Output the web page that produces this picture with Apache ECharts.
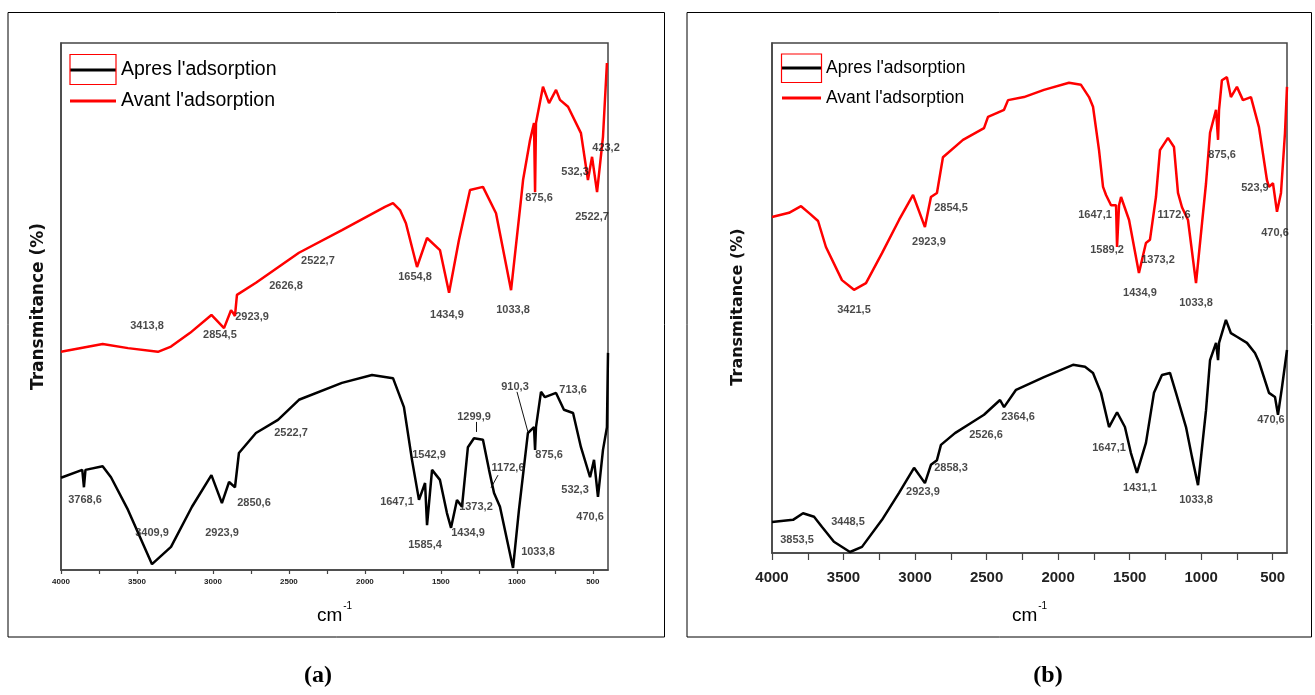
<!DOCTYPE html>
<html>
<head>
<meta charset="utf-8">
<script src="https://cdn.jsdelivr.net/npm/echarts@6/dist/echarts.min.js"></script>
<style>
html,body{margin:0;padding:0;background:#fff;}
#c{width:1315px;height:695px;}
</style>
</head>
<body>
<div id="c"></div>
<script>
// ---------- DATA ----------
const seriesNames = ["Apres l'adsorption", "Avant l'adsorption"];
const xTickLabels = [4000, 3500, 3000, 2500, 2000, 1500, 1000, 500];
const xTickMarks = [4000, 3750, 3500, 3250, 3000, 2750, 2500, 2250, 2000, 1750, 1500, 1250, 1000, 750, 500];

// Panel (a) – before adsorption (red)
const a_avant = [[4000,41.4],[3726,42.9],[3559,42.1],[3362,41.4],[3276,42.4],[3150,45.0],[3010,48.4],[2927,45.9],[2881,49.3],[2868,48.8],[2855,48.2],[2842,52.2],[2717,54.5],[2434,60.2],[2151,64.5],[1868,68.9],[1815,69.6],[1769,68.3],[1730,65.8],[1657,57.5],[1591,63.0],[1506,60.7],[1446,52.6],[1381,62.6],[1308,72.1],[1223,72.7],[1137,67.7],[1038,53.1],[973,70.2],[959,74.0],[913,81.6],[887,84.8],[880,71.7],[874,84.8],[828,91.7],[788,88.6],[742,91.1],[716,89.2],[663,87.9],[578,82.9],[532,74.0],[505,78.4],[472,71.7],[433,82.2],[407,96.2]];
// Panel (a) – after adsorption (black)
const a_apres = [[4000,17.5],[3860,19.0],[3849,15.7],[3839,19.0],[3726,19.7],[3671,17.6],[3559,11.4],[3401,1.1],[3276,4.4],[3138,12.0],[3010,18.0],[2941,12.7],[2894,16.7],[2855,15.7],[2829,22.2],[2717,26.0],[2572,28.5],[2434,32.3],[2151,35.5],[1953,37.0],[1815,36.4],[1743,30.9],[1690,20.9],[1644,13.3],[1604,16.5],[1591,8.5],[1558,19.0],[1506,17.1],[1460,10.8],[1433,8.0],[1394,13.3],[1361,12.0],[1322,23.3],[1282,25.0],[1223,24.7],[1183,19.0],[1150,14.6],[1111,12.0],[1025,0.4],[986,11.4],[927,26.0],[887,27.1],[880,22.8],[874,27.1],[841,33.8],[815,32.8],[742,33.6],[690,30.4],[630,29.8],[578,23.3],[518,17.6],[492,20.9],[466,13.9],[433,22.8],[407,27.1],[400,41.2]];
// Panel (b) – before adsorption (red)
const b_avant = [[4000,65.9],[3881,66.7],[3797,68.0],[3734,66.5],[3678,65.1],[3623,60.0],[3511,53.5],[3427,51.6],[3343,52.9],[3231,58.8],[3112,65.3],[3014,70.2],[2931,63.9],[2889,69.8],[2847,70.6],[2805,77.6],[2665,81.0],[2518,83.3],[2490,85.5],[2378,86.9],[2350,88.8],[2239,89.4],[2099,90.8],[1924,92.2],[1840,91.8],[1784,89.4],[1756,87.5],[1714,79.0],[1686,71.8],[1665,70.2],[1630,68.2],[1595,68.2],[1588,60.0],[1574,68.2],[1560,69.8],[1504,65.3],[1435,54.9],[1386,60.8],[1358,61.4],[1316,69.8],[1288,79.0],[1232,81.4],[1190,79.6],[1162,70.6],[1134,67.8],[1092,65.3],[1036,52.9],[994,64.7],[966,72.5],[938,82.4],[896,86.9],[882,81.0],[875,86.9],[855,92.7],[820,93.3],[792,89.4],[750,91.4],[708,88.8],[652,89.4],[596,83.5],[540,73.1],[526,71.8],[498,72.5],[470,66.9],[442,70.6],[414,82.4],[400,91.4]];
// Panel (b) – after adsorption (black)
const b_apres = [[4000,6.1],[3853,6.5],[3783,7.8],[3706,7.1],[3650,5.1],[3567,2.2],[3455,0.2],[3371,1.2],[3231,6.5],[3112,11.8],[3007,16.7],[2931,13.7],[2889,17.3],[2847,18.2],[2819,21.2],[2721,23.5],[2609,25.5],[2518,27.1],[2406,30.0],[2378,28.6],[2294,32.0],[2099,34.5],[1896,36.9],[1812,36.5],[1756,35.3],[1700,31.4],[1644,24.7],[1588,27.6],[1533,24.7],[1491,19.6],[1449,15.7],[1386,21.6],[1330,31.4],[1274,34.9],[1218,35.3],[1176,31.4],[1106,24.7],[1064,18.8],[1022,13.3],[966,28.0],[938,37.8],[896,41.2],[882,37.8],[875,41.2],[827,45.7],[792,43.1],[750,42.4],[680,41.2],[624,39.2],[596,37.5],[526,31.4],[484,30.6],[463,27.1],[435,32.5],[400,39.8]];

// Peak annotations [wavenumber, transmittance, text]
const a_labels = [[413,80.1,"423,2"],[617,75.5,"532,3"],[854,70.6,"875,6"],[505,67.0,"2522,7"],[2309,58.6,"2522,7"],[1670,55.6,"1654,8"],[2519,53.9,"2626,8"],[1460,48.4,"1434,9"],[1025,49.3,"1033,8"],[3434,46.3,"3413,8"],[2743,48.0,"2923,9"],[2954,44.6,"2854,5"],
 [1012,34.7,"910,3"],[630,34.2,"713,6"],[1282,29.0,"1299,9"],[2486,26.0,"2522,7"],[1578,21.8,"1542,9"],[788,21.8,"875,6"],[1058,19.4,"1172,6"],[3842,13.3,"3768,6"],[1789,12.9,"1647,1"],[1269,12.0,"1373,2"],[2730,12.7,"2850,6"],[617,15.2,"532,3"],[518,10.1,"470,6"],[3401,7.0,"3409,9"],[2940,7.0,"2923,9"],[1321,7.0,"1434,9"],[1604,4.7,"1585,4"],[861,3.4,"1033,8"]];
const a_leaders = [[[999,33.8],[927,26.2]],[[1124,18.0],[1170,15.6]],[[1269,28.1],[1269,26.2]]];
const b_labels = [[854,78.0,"875,6"],[624,71.6,"523,9"],[2749,67.6,"2854,5"],[1742,66.3,"1647,1"],[1190,66.3,"1172,6"],[2903,61.0,"2923,9"],[484,62.7,"470,6"],[1658,59.4,"1589,2"],[1302,57.5,"1373,2"],[3427,47.6,"3421,5"],[1428,51.0,"1434,9"],[1036,49.0,"1033,8"],
 [2280,26.7,"2364,6"],[512,26.1,"470,6"],[2504,23.1,"2526,6"],[1644,20.6,"1647,1"],[2749,16.7,"2858,3"],[1428,12.7,"1431,1"],[2945,12.0,"2923,9"],[1036,10.4,"1033,8"],[3469,6.1,"3448,5"],[3825,2.5,"3853,5"]];

// ---------- CHART ----------
const chart = echarts.init(document.getElementById('c'), null, {renderer: 'canvas'});
const FRAME = '#444';
const ARIAL = '"Liberation Sans", Arial, sans-serif';

function xAxisCfg(gi, o) {
  return {
    type: 'value', gridIndex: gi, inverse: true, min: 400, max: 4000,
    axisLine: {show: true, onZero: false, lineStyle: {color: FRAME, width: 1.5}},
    axisTick: {show: true, customValues: xTickMarks, length: o.tickLen, lineStyle: {color: FRAME, width: 1.2}},
    axisLabel: {customValues: xTickLabels, formatter: v => String(v), fontSize: o.labelSize, fontWeight: 'bold', color: '#222',
      fontFamily: ARIAL, margin: o.labelMargin},
    splitLine: {show: false},
    name: '{b|cm}{s|-1}', nameLocation: 'middle', nameGap: o.nameGap,
    nameTextStyle: {rich: {
      b: {fontSize: 19, fontFamily: ARIAL, color: '#000', lineHeight: 24, verticalAlign: 'bottom'},
      s: {fontSize: 10, fontFamily: ARIAL, color: '#000', lineHeight: 24, verticalAlign: 'top', padding: [0,0,0,1]}
    }}
  };
}
function yAxisCfg(gi, o) {
  return {
    type: 'value', gridIndex: gi, min: 0, max: 100,
    axisLine: {show: true, lineStyle: {color: FRAME, width: 1.5}},
    axisTick: {show: false}, axisLabel: {show: false}, splitLine: {show: false},
    name: 'Transmitance (%)', nameLocation: 'middle', nameGap: o.nameGap,
    nameTextStyle: {fontSize: o.size, fontWeight: 'bold', fontFamily: 'DejaVu Sans, sans-serif', color: '#111', padding: o.pad}
  };
}
function lineSeries(name, data, color, gi) {
  return {type: 'line', name, data, xAxisIndex: gi, yAxisIndex: gi, showSymbol: false, symbol: 'none',
    lineStyle: {color, width: 2.5}, itemStyle: {color}, smooth: false, animation: false, z: 3};
}
function labelSeries(data, gi, size) {
  return {type: 'scatter', data, xAxisIndex: gi, yAxisIndex: gi, symbolSize: 0, silent: true, animation: false, z: 5,
    label: {show: true, position: 'inside', formatter: p => p.value[2], fontSize: size, fontWeight: 'bold',
      color: '#1a1a1a', fontFamily: ARIAL}};
}
function legendCfg(left, top, w, size, lh) {
  return {orient: 'vertical', left, top, padding: 0, itemGap: 9, itemWidth: w, itemHeight: 3, icon: 'rect',
    data: seriesNames, selectedMode: false,
    textStyle: {fontSize: size, lineHeight: lh, color: '#000', fontFamily: ARIAL}};
}

const option = {
  backgroundColor: '#fff',
  animation: false,
  grid: [
    {left: 61, top: 43, width: 547, height: 527, show: true, borderColor: FRAME, borderWidth: 1.5, backgroundColor: 'transparent'},
    {left: 772, top: 43, width: 515, height: 510, show: true, borderColor: FRAME, borderWidth: 1.5, backgroundColor: 'transparent'}
  ],
  xAxis: [
    xAxisCfg(0, {tickLen: 4, labelSize: 8, labelMargin: 8, nameGap: 31}),
    xAxisCfg(1, {tickLen: 7, labelSize: 15, labelMargin: 17, nameGap: 48})
  ],
  yAxis: [
    yAxisCfg(0, {nameGap: 14, size: 17, pad: [0, 0, 0, 0]}),
    yAxisCfg(1, {nameGap: 26, size: 16, pad: [0, 18, 0, 0]})
  ],
  legend: [legendCfg(70, 59, 46, 19.5, 22), legendCfg(782, 57.5, 39, 17.5, 21)],
  series: [
    lineSeries(seriesNames[0], a_apres, '#000000', 0),
    lineSeries(seriesNames[1], a_avant, '#ff0000', 0),
    lineSeries(seriesNames[0], b_apres, '#000000', 1),
    lineSeries(seriesNames[1], b_avant, '#ff0000', 1),
    labelSeries(a_labels, 0, 11),
    labelSeries(b_labels, 1, 11),
    {type: 'lines', coordinateSystem: 'cartesian2d', xAxisIndex: 0, yAxisIndex: 0, silent: true, animation: false,
     data: a_leaders.map(c => ({coords: c})), lineStyle: {color: '#111', width: 1, opacity: 1}, z: 4}
  ],
  graphic: [
    {type: 'rect', shape: {x: 8, y: 12.5, width: 656.5, height: 624.5}, style: {fill: 'none', stroke: '#000', lineWidth: 1}, silent: true},
    {type: 'rect', shape: {x: 687, y: 12.5, width: 624.5, height: 624.5}, style: {fill: 'none', stroke: '#000', lineWidth: 1}, silent: true},
    {type: 'rect', shape: {x: 70, y: 54.5, width: 46, height: 30}, style: {fill: 'none', stroke: '#ff0000', lineWidth: 1.2}, silent: true, z: 10},
    {type: 'rect', shape: {x: 781.5, y: 54, width: 40, height: 28.5}, style: {fill: 'none', stroke: '#ff0000', lineWidth: 1.2}, silent: true, z: 10},
    {type: 'text', x: 318, y: 676, style: {text: '(a)', font: 'bold 24px "Liberation Serif", "Times New Roman", serif', fill: '#000', textAlign: 'center', textVerticalAlign: 'middle'}, silent: true},
    {type: 'text', x: 1048, y: 676, style: {text: '(b)', font: 'bold 24px "Liberation Serif", "Times New Roman", serif', fill: '#000', textAlign: 'center', textVerticalAlign: 'middle'}, silent: true}
  ]
};
chart.setOption(option);
</script>
</body>
</html>
